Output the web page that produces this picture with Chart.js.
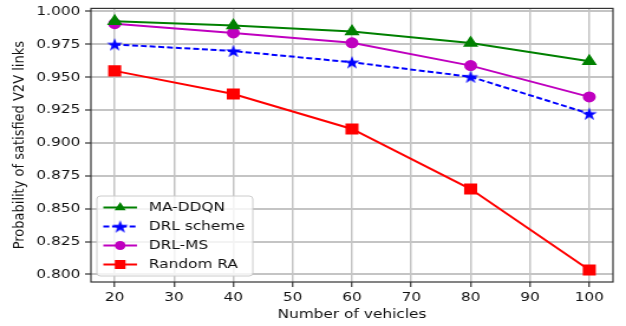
<!DOCTYPE html>
<html>
<head>
<meta charset="utf-8">
<script src="https://cdn.jsdelivr.net/npm/chart.js@4.4.0/dist/chart.umd.min.js"></script>
<style>
    html, body { margin: 0; padding: 0; background: #ffffff; }
</style>
</head>
<body>
<!-- drawn narrow and stretched wide, like the reference picture -->
<canvas id="myChart" width="530" height="326" style="width: 626px; height: 326px; display: block;"></canvas>
<script>
// Data
const vehicles = [20, 40, 60, 80, 100];
const maDdqn = [0.9925, 0.9892, 0.9847, 0.9759, 0.9621];
const drlScheme = [0.9749, 0.9699, 0.9613, 0.9503, 0.9222];
const drlMs = [0.9907, 0.9836, 0.9761, 0.9588, 0.9350];
const randomRa = [0.9548, 0.9372, 0.9106, 0.8649, 0.8033];
const seriesNames = ['MA-DDQN', 'DRL scheme', 'DRL-MS', 'Random RA'];
const xTicks = [20, 30, 40, 50, 60, 70, 80, 90, 100];
const yTicks = [0.800, 0.825, 0.850, 0.875, 0.900, 0.925, 0.950, 0.975, 1.000];

const FONT = "'DejaVu Sans', sans-serif";

// Filled five point star, used as a point style image
function makeStar(r, color) {
    const size = Math.ceil(r * 2 + 2);
    const c = document.createElement('canvas');
    c.width = size;
    c.height = size;
    const g = c.getContext('2d');
    const cx = size / 2, cy = size / 2 + r * 0.1;
    g.beginPath();
    for (let i = 0; i < 10; i++) {
        const rad = i % 2 === 0 ? r : r * 0.382;
        const a = -Math.PI / 2 + i * Math.PI / 5;
        g.lineTo(cx + rad * Math.cos(a), cy + rad * Math.sin(a));
    }
    g.closePath();
    g.fillStyle = color;
    g.fill();
    return c;
}

function toPoints(values) {
    return values.map((v, i) => ({ x: vehicles[i], y: v }));
}

// Box around the plot, like matplotlib spines
const spines = {
    id: 'spines',
    afterDraw(chart) {
        const { ctx, chartArea: a } = chart;
        ctx.save();
        ctx.strokeStyle = '#333333';
        ctx.lineWidth = 1.2;
        ctx.strokeRect(a.left, a.top, a.right - a.left, a.bottom - a.top);
        ctx.restore();
    }
};

// Legend drawn inside the plot, lower left
const innerLegend = {
    id: 'innerLegend',
    afterDraw(chart) {
        const { ctx, chartArea: a } = chart;
        const boxW = 132, boxH = 80;
        const x0 = a.left + 5, y0 = a.bottom - 6 - boxH;
        ctx.save();
        ctx.fillStyle = 'rgba(255,255,255,0.8)';
        ctx.strokeStyle = '#cccccc';
        ctx.lineWidth = 1;
        ctx.beginPath();
        ctx.roundRect(x0, y0, boxW, boxH, 3);
        ctx.fill();
        ctx.stroke();

        chart.data.datasets.forEach((ds, i) => {
            const y = y0 + 11.5 + i * 19;
            ctx.strokeStyle = ds.borderColor;
            ctx.lineWidth = ds.borderWidth;
            ctx.setLineDash(ds.borderDash || []);
            ctx.beginPath();
            ctx.moveTo(x0 + 5.5, y);
            ctx.lineTo(x0 + 34, y);
            ctx.stroke();
            ctx.setLineDash([]);
            ctx.fillStyle = ds.pointBackgroundColor;
            ctx.strokeStyle = ds.pointBorderColor;
            ctx.lineWidth = 1;
            Chart.helpers.drawPoint(ctx, {
                pointStyle: ds.pointStyle,
                radius: ds.pointRadius,
                borderWidth: 0
            }, x0 + 19.75, y);
            ctx.fillStyle = '#111111';
            ctx.font = '13px ' + FONT;
            ctx.textBaseline = 'middle';
            ctx.textAlign = 'left';
            ctx.fillText(ds.label, x0 + 44, y + 0.5);
        });
        ctx.restore();
    }
};

const ctx = document.getElementById('myChart').getContext('2d');

const myChart = new Chart(ctx, {
    type: 'line',
    data: {
        datasets: [{
            label: seriesNames[0],
            data: toPoints(maDdqn),
            borderColor: '#008000',
            pointBackgroundColor: '#008000',
            pointBorderColor: '#008000',
            borderWidth: 2,
            pointStyle: 'triangle',
            pointRadius: 5.5
        }, {
            label: seriesNames[1],
            data: toPoints(drlScheme),
            borderColor: '#0000ff',
            pointBackgroundColor: '#0000ff',
            pointBorderColor: '#0000ff',
            borderWidth: 2,
            borderDash: [5, 2.4],
            pointStyle: makeStar(7, '#0000ff'),
            pointRadius: 6
        }, {
            label: seriesNames[2],
            data: toPoints(drlMs),
            borderColor: '#bf00bf',
            pointBackgroundColor: '#bf00bf',
            pointBorderColor: '#bf00bf',
            borderWidth: 2,
            pointStyle: 'circle',
            pointRadius: 4.5
        }, {
            label: seriesNames[3],
            data: toPoints(randomRa),
            borderColor: '#ff0000',
            pointBackgroundColor: '#ff0000',
            pointBorderColor: '#ff0000',
            borderWidth: 2,
            pointStyle: 'rect',
            pointRadius: 6.4
        }]
    },
    options: {
        responsive: false,
        animation: false,
        devicePixelRatio: 1,
        layout: {
            padding: { left: 0, right: 11, top: 6, bottom: 0 }
        },
        elements: {
            line: { tension: 0, fill: false },
            point: { borderWidth: 0, hoverRadius: 5 }
        },
        plugins: {
            legend: { display: false },
            tooltip: { enabled: false }
        },
        scales: {
            x: {
                type: 'linear',
                min: 16,
                max: 104,
                afterBuildTicks: scale => {
                    scale.ticks = xTicks.map(v => ({ value: v }));
                },
                afterFit: scale => {
                    scale.height = 44;
                    scale.paddingLeft = 0;
                    scale.paddingRight = 0;
                },
                border: { display: false },
                grid: {
                    color: '#c4c4c4',
                    lineWidth: 1.5,
                    tickColor: '#333333',
                    tickLength: 5,
                    tickWidth: 1.2
                },
                ticks: {
                    color: '#111111',
                    font: { family: FONT, size: 13 },
                    padding: 3,
                    maxRotation: 0,
                    callback: v => String(v)
                },
                title: {
                    display: true,
                    text: 'Number of vehicles',
                    color: '#111111',
                    font: { family: FONT, size: 13 },
                    padding: { top: 0, bottom: 4 }
                }
            },
            y: {
                type: 'linear',
                min: 0.7942,
                max: 1.0023,
                afterBuildTicks: scale => {
                    scale.ticks = yTicks.map(v => ({ value: v }));
                },
                afterFit: scale => {
                    // fixed plot box: keep the tick labels from pushing it in
                    scale.width = 77;
                    scale.paddingTop = 0;
                    scale.paddingBottom = 0;
                },
                border: { display: false },
                grid: {
                    color: '#c4c4c4',
                    lineWidth: 2,
                    tickColor: '#333333',
                    tickLength: 5,
                    tickWidth: 1.2
                },
                ticks: {
                    color: '#111111',
                    font: { family: FONT, size: 13, lineHeight: 1 },
                    padding: 4,
                    callback: v => v.toFixed(3)
                },
                title: {
                    display: true,
                    text: 'Probability of satisfied V2V links',
                    color: '#111111',
                    font: { family: FONT, size: 13 },
                    padding: { top: 9, bottom: 0 }
                }
            }
        }
    },
    plugins: [spines, innerLegend]
});
</script>
</body>
</html>
